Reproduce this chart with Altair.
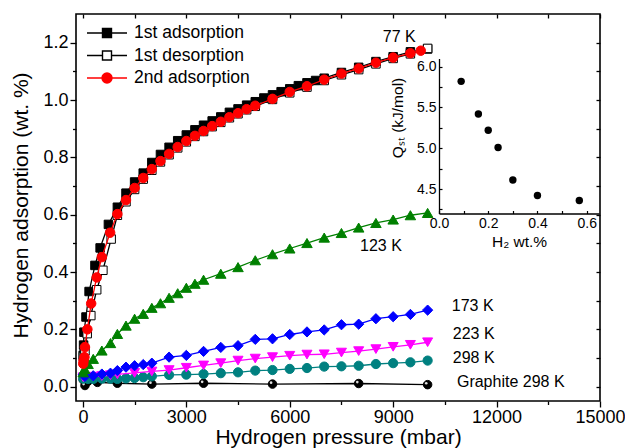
import altair as alt
import pandas as pd

# ---------------- data ----------------
# 77 K, 1st adsorption (filled squares)
ads1_p = [10, 20, 30, 90, 180, 350, 500, 740, 1000, 1250, 1500, 1750, 2000, 2250,
          2500, 2750, 3000, 3250, 3500, 3750, 4000, 4250, 4500, 4750, 5000, 5250,
          5500, 5750, 6000, 6250, 6500, 6750, 7000, 7500, 8000, 8500, 9000, 9500, 10000]
ads1_q = [0.110, 0.145, 0.190, 0.243, 0.332, 0.423, 0.484, 0.566, 0.626, 0.675, 0.714,
          0.745, 0.782, 0.810, 0.835, 0.858, 0.878, 0.896, 0.912, 0.927, 0.941, 0.957,
          0.969, 0.982, 0.994, 1.007, 1.018, 1.029, 1.039, 1.050, 1.060, 1.068, 1.076,
          1.096, 1.114, 1.134, 1.151, 1.168, 1.178]
# 77 K, 1st desorption (open squares)
des_p = [15, 60, 125, 230, 400, 580, 820, 1000, 1250, 1500, 1750, 2000, 2250, 2500,
         2750, 3000, 3250, 3500, 3750, 4000, 4250, 4500, 4750, 5000, 5500, 6000, 6500,
         7000, 7500, 8000, 8500, 9000, 9500, 10000]
des_q = [0.105, 0.125, 0.185, 0.248, 0.338, 0.406, 0.515, 0.598, 0.645, 0.688, 0.724,
         0.755, 0.784, 0.809, 0.833, 0.854, 0.873, 0.890, 0.907, 0.922, 0.938, 0.952,
         0.966, 0.978, 1.002, 1.025, 1.045, 1.068, 1.088, 1.106, 1.126, 1.145, 1.161, 1.180]
# 77 K, 2nd adsorption (red circles)
ads2_p = [10, 20, 45, 60, 130, 240, 400, 550, 790, 1000, 1250, 1500, 1750, 2000, 2250,
          2500, 2750, 3000, 3250, 3500, 3750, 4000, 4250, 4500, 4750, 5000, 5500, 6000,
          6500, 7000, 7500, 8000, 8500, 9000, 9500, 9800]
ads2_q = [0.080, 0.091, 0.103, 0.138, 0.200, 0.290, 0.381, 0.452, 0.537, 0.602, 0.651,
          0.693, 0.728, 0.759, 0.787, 0.812, 0.836, 0.857, 0.875, 0.892, 0.909, 0.924,
          0.940, 0.954, 0.968, 0.980, 1.004, 1.028, 1.048, 1.071, 1.092, 1.110, 1.130,
          1.148, 1.163, 1.172]
# 123 K
k123_p = [10, 50, 150, 300, 550, 800, 1000, 1250, 1500, 1750, 2000, 2250, 2500, 2750,
          3000, 3250, 3500, 4000, 4500, 5000, 5500, 6000, 6500, 7000, 7500, 8000, 8500,
          9000, 9500, 10000]
k123_q = [0.050, 0.062, 0.079, 0.097, 0.126, 0.152, 0.184, 0.213, 0.237, 0.254, 0.275,
          0.291, 0.310, 0.326, 0.345, 0.359, 0.373, 0.394, 0.417, 0.441, 0.462, 0.482,
          0.501, 0.520, 0.536, 0.555, 0.571, 0.583, 0.598, 0.606]
# 173 K
k173_p = [10, 60, 300, 550, 800, 1000, 1250, 1500, 1750, 2000, 2500, 3000, 3500, 4000,
          4500, 5000, 5500, 6000, 6500, 7000, 7500, 8000, 8500, 9000, 9500, 10000]
k173_q = [0.042, 0.036, 0.038, 0.044, 0.047, 0.056, 0.068, 0.073, 0.077, 0.082, 0.103,
          0.109, 0.123, 0.137, 0.143, 0.165, 0.167, 0.182, 0.191, 0.198, 0.216, 0.218,
          0.237, 0.244, 0.252, 0.267]
# 223 K
k223_p = [10, 300, 550, 800, 1000, 1500, 2000, 2500, 3000, 3500, 4000, 4500, 5000, 5500,
          6000, 6500, 7000, 7500, 8000, 8500, 9000, 9500, 10000]
k223_q = [0.033, 0.035, 0.037, 0.040, 0.043, 0.048, 0.053, 0.058, 0.066, 0.074, 0.082,
          0.091, 0.098, 0.103, 0.108, 0.112, 0.113, 0.119, 0.124, 0.131, 0.139, 0.146, 0.155]
# 298 K
k298_p = [10, 150, 300, 550, 800, 1000, 1250, 1500, 1750, 2000, 2500, 3000, 3500, 4000,
          4500, 5000, 5500, 6000, 6500, 7000, 7500, 8000, 8500, 9000, 9500, 10000]
k298_q = [0.028, 0.027, 0.027, 0.028, 0.028, 0.027, 0.029, 0.030, 0.033, 0.036, 0.041,
          0.042, 0.044, 0.047, 0.050, 0.056, 0.058, 0.062, 0.065, 0.070, 0.071, 0.073,
          0.079, 0.082, 0.085, 0.091]
# Graphite 298 K
gra_p = [10, 60, 150, 420, 1000, 2000, 3500, 5500, 8000, 10000]
gra_q = [0.024, 0.004, 0.019, 0.015, 0.012, 0.009, 0.012, 0.009, 0.011, 0.007]

# inset: isosteric heat
inset_h2 = [0.09, 0.16, 0.20, 0.24, 0.30, 0.40, 0.57]
inset_qst = [5.82, 5.42, 5.22, 5.01, 4.61, 4.42, 4.36]

# curve labels
ann_text = ["77 K", "123 K", "173 K", "223 K", "298 K", "Graphite 298 K"]
ann_p = [8700, 8040, 10700, 10730, 10730, 10850]
ann_q = [1.219, 0.490, 0.280, 0.182, 0.100, 0.016]

legend_names = ["1st adsorption", "1st desorption", "2nd adsorption"]

# main axis ticks
x_ticks = [0, 1500, 3000, 4500, 6000, 7500, 9000, 10500, 12000, 13500, 15000]
y_ticks = [0.0, 0.1, 0.2, 0.3, 0.4, 0.5, 0.6, 0.7, 0.8, 0.9, 1.0, 1.1, 1.2]
inset_x_ticks = [0.0, 0.2, 0.4, 0.6]
inset_x_minor = [0.0, 0.1, 0.2, 0.3, 0.4, 0.5, 0.6]
inset_y_ticks = [4.5, 5.0, 5.5, 6.0]
inset_y_minor = [4.25, 4.5, 4.75, 5.0, 5.25, 5.5, 5.75, 6.0]

FONT = "Liberation Sans"
W, H = 524, 387


def frame(p, q):
    return pd.DataFrame({"p": p, "q": q})


x_main_scale = alt.Scale(domain=[-200, 15000], nice=False, zero=False)
y_main_scale = alt.Scale(domain=[-0.05, 1.3], nice=False, zero=False)

x_axis = alt.Axis(
    values=x_ticks,
    labelExpr="datum.value % 3000 === 0 ? format(datum.value, 'd') : ''",
    tickSize={"condition": {"test": "datum.value % 3000 === 0", "value": 6}, "value": 3.5},
    tickWidth=1.3, domain=False, grid=False, labelFlush=False, labelOverlap=False,
    labelFontSize=18, labelPadding=1, labelFont=FONT,
    title="Hydrogen pressure (mbar)", titleFontSize=21, titleFont=FONT,
    titleFontWeight="normal", titleY=42.5, titleBaseline="alphabetic",
)
y_axis = alt.Axis(
    values=y_ticks,
    labelExpr="round(datum.value * 10) % 2 === 0 ? format(datum.value, '.1f') : ''",
    tickSize={"condition": {"test": "round(datum.value * 10) % 2 === 0", "value": 6}, "value": 3.5},
    tickWidth=1.3, domain=False, grid=False, labelFlush=False, labelOverlap=False,
    labelFontSize=18, labelPadding=2, labelFont=FONT,
    title="Hydrogen adsorption (wt. %)", titleFontSize=21, titleFont=FONT,
    titleFontWeight="normal", titleX=-49, titleY=191, titleBaseline="alphabetic",
    titleAlign="center",
)

X = alt.X("p:Q", scale=x_main_scale, axis=x_axis)
Y = alt.Y("q:Q", scale=y_main_scale, axis=y_axis)


def series(df, color, shape, size, fill, stroke):
    line = alt.Chart(df).mark_line(color=color, strokeWidth=1.3).encode(x=X, y=Y)
    pts = alt.Chart(df).mark_point(
        shape=shape, size=size, filled=True, fill=fill, stroke=stroke,
        strokeWidth=1, opacity=1,
    ).encode(x=X, y=Y)
    return [line, pts]


gra_df = frame(gra_p, gra_q)
layers = []
layers += series(gra_df, "black", "circle", 72, "black", "black")
layers.append(
    alt.Chart(gra_df).mark_point(shape="circle", size=7, filled=True, fill="#e0e0e0",
                                 strokeWidth=0, opacity=1, xOffset=-1.4, yOffset=-1.4)
    .encode(x=X, y=Y)
)
layers += series(frame(k298_p, k298_q), "#008080", "circle", 85, "#008080", "#008080")
layers += series(frame(k223_p, k223_q), "#FF00FF", "triangle-down", 100, "#FF00FF", "#FF00FF")
layers += series(frame(k173_p, k173_q), "#0000FF", "diamond", 105, "#0000FF", "#0000FF")
layers += series(frame(k123_p, k123_q), "#008000", "triangle-up", 110, "#008000", "#008000")
layers += series(frame(ads1_p, ads1_q), "black", "square", 72, "black", "black")
layers += series(frame(des_p, des_q), "black", "square", 72, "white", "black")
layers += series(frame(ads2_p, ads2_q), "#FF0000", "circle", 90, "#FF0000", "#FF0000")

ann_df = pd.DataFrame({"p": ann_p, "q": ann_q, "t": ann_text})
layers.append(
    alt.Chart(ann_df).mark_text(align="left", baseline="middle", fontSize=16,
                                font=FONT, color="black")
    .encode(x=X, y=Y, text="t:N")
)

# legend (line + marker symbols)
sq_path = "M-1,0H-0.225M0.225,0H1M-0.225,-0.225H0.225V0.225H-0.225Z"
ci_path = "M-1,0H-0.25M0.25,0H1M0.25,0A0.25,0.25,0,1,1,-0.25,0A0.25,0.25,0,1,1,0.25,0Z"
leg = alt.Legend(title=None, orient="none", legendX=10, legendY=9, symbolSize=1600,
                 symbolStrokeWidth=1.4, labelFontSize=17.5, labelFont=FONT,
                 labelColor="black", labelOffset=6, clipHeight=20, rowPadding=2.5,
                 padding=0)
leg_df = pd.DataFrame({"series": legend_names})
layers.append(
    alt.Chart(leg_df).mark_point(filled=True, opacity=1).encode(
        shape=alt.Shape("series:N", scale=alt.Scale(domain=legend_names,
                        range=[sq_path, sq_path, ci_path]), legend=leg),
        fill=alt.Fill("series:N", scale=alt.Scale(domain=legend_names,
                      range=["black", "white", "#FF0000"]), legend=leg),
        stroke=alt.Stroke("series:N", scale=alt.Scale(domain=legend_names,
                          range=["black", "black", "#FF0000"]), legend=leg),
    ).transform_filter("false")
)

main = alt.layer(*layers)

# mirror ticks on top and right (pointing inward)
mirror = alt.Chart(frame(ads1_p, ads1_q)).mark_point(opacity=0).encode(
    x=alt.X("p:Q", scale=alt.Scale(domain=[-200, 15000], nice=False, zero=False),
            axis=alt.Axis(orient="top", values=x_ticks, labels=False, domain=False,
                          grid=False, tickSize=4, tickWidth=1.3, offset=-4, title=None)),
    y=alt.Y("q:Q", scale=alt.Scale(domain=[-0.05, 1.3], nice=False, zero=False),
            axis=alt.Axis(orient="right", values=y_ticks, labels=False, domain=False,
                          grid=False, tickSize=4, tickWidth=1.3, offset=-4, title=None)),
)

# inset
inset_df = pd.DataFrame({"h": inset_h2, "qst": inset_qst})
ix_scale = alt.Scale(domain=[0, 0.65], range=[363, 523], nice=False, zero=False)
iy_scale = alt.Scale(domain=[4.2, 6.1], range=[199.5, 44.5], nice=False, zero=False)
inset = alt.Chart(inset_df).mark_point(shape="circle", size=55, filled=True,
                                       color="black", opacity=1).encode(
    x=alt.X("h:Q", scale=ix_scale,
            axis=alt.Axis(orient="bottom", offset=-(H - 199.5), values=inset_x_ticks,
                          format=".1f", ticks=False, domain=True, domainWidth=1.3,
                          grid=False, labelFlush=False, labelFontSize=14, labelFont=FONT,
                          labelPadding=3, title="H₂ wt.%", titleFontSize=15.5,
                          titleFont=FONT, titleFontWeight="normal", titleY=33,
                          titleBaseline="alphabetic")),
    y=alt.Y("qst:Q", scale=iy_scale,
            axis=alt.Axis(orient="left", offset=-363, values=inset_y_ticks,
                          format=".1f", ticks=False, domain=True, domainWidth=1.3,
                          grid=False, labelFontSize=14, labelFont=FONT, labelPadding=3,
                          title="Qₛₜ (kJ/mol)", titleFontSize=15.5, titleFont=FONT,
                          titleFontWeight="normal", titleX=-37, titleY=103.5,
                          titleBaseline="alphabetic", titleAlign="center")),
)
inset_ticks = alt.Chart(inset_df).mark_point(opacity=0).encode(
    x=alt.X("h:Q", scale=ix_scale,
            axis=alt.Axis(orient="bottom", offset=-(H - 199.5 + 3), values=inset_x_minor,
                          labels=False, domain=False, grid=False, tickSize=3,
                          tickWidth=1.2, title=None)),
    y=alt.Y("qst:Q", scale=iy_scale,
            axis=alt.Axis(orient="left", offset=-(363 + 3), values=inset_y_minor,
                          labels=False, domain=False, grid=False, tickSize=3,
                          tickWidth=1.2, title=None)),
)

chart = (
    alt.layer(main, mirror, inset, inset_ticks)
    .resolve_scale(x="independent", y="independent")
    .properties(width=W, height=H, autosize=alt.AutoSizeParams(type="none"),
                padding={"left": 76, "top": 14, "right": 25, "bottom": 47})
    .configure(font=FONT, background="white")
    .configure_view(stroke="black", strokeWidth=1.6)
    .configure_axis(labelColor="black", tickColor="black", domainColor="black",
                    titleColor="black")
)

chart.save("out.html", embed_options={"renderer": "svg", "actions": False})
